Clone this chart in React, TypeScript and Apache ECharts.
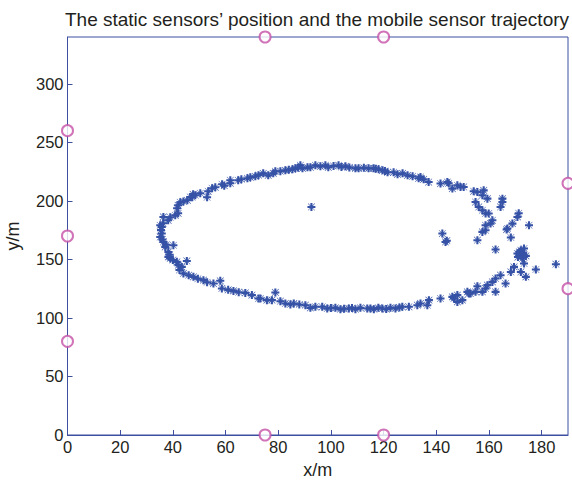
import React, { useEffect, useRef } from "react";
import * as echarts from "echarts";

const titleText = "The static sensors\u2019 position and the mobile sensor trajectory";
const xName = "x/m";
const yName = "y/m";
const xMin = 0;
const xMax = 190;
const xInterval = 20;
const yMin = 0;
const yMax = 340;
const yInterval = 50;

// Static sensors [x, y]
const staticSensors: [number, number][] = [
  [0, 260], [0, 170], [0, 80],
  [75, 340], [120, 340],
  [75, 0], [120, 0],
  [190, 215], [190, 125],
];

// Mobile sensor trajectory estimates [x, y]
const trajectory: [number, number][] = [
  // left, upper
  [35.8, 177.7], [36.3, 180.9], [38.2, 183.4], [39.0, 186.0], [40.9, 187.7], [42.0, 189.4],
  [41.6, 193.7], [42.0, 196.2], [42.8, 198.8], [45.5, 200.5], [47.3, 203.1], [47.7, 205.6],
  [50.4, 206.5], [53.0, 203.1], [53.4, 208.2], [54.9, 210.8], [56.1, 211.6], [58.7, 214.2],
  [61.8, 215.0], [61.8, 217.6], [64.8, 217.6], [68.3, 219.3], [69.4, 220.1], [71.3, 221.0],
  [74.3, 223.5], [76.2, 221.8], [35.2, 179.2], [36.4, 186.3], [46.6, 203.3], [48.5, 204.8],
  [44.0, 199.5], [59.5, 213.0], [66.0, 218.5], [72.5, 222.0],
  // top
  [78.1, 223.5], [78.9, 225.3], [80.8, 225.3], [82.7, 226.1], [85.4, 227.0], [86.5, 227.8],
  [88.4, 230.4], [89.2, 227.8], [91.1, 228.7], [92.2, 228.7], [94.1, 230.4], [97.9, 230.4],
  [99.0, 228.7], [102.9, 230.4], [105.5, 229.5], [109.3, 227.8], [110.5, 227.8], [114.3, 227.8],
  [116.2, 227.8], [118.1, 227.0], [119.6, 226.1], [121.5, 224.4], [123.8, 224.4], [125.3, 222.7],
  [127.2, 223.5], [129.1, 221.8], [131.0, 221.0], [133.3, 219.3], [84.0, 226.5], [87.5, 228.5],
  [96.0, 229.5], [101.0, 229.8], [104.0, 229.0], [107.0, 228.6], [112.5, 228.2], [117.0, 227.5],
  [120.5, 225.5],
  // right, upper
  [134.0, 220.4], [135.2, 218.4], [137.1, 216.1], [141.6, 214.8], [144.2, 216.1], [144.7, 215.0],
  [146.1, 210.5], [148.0, 213.3], [149.2, 211.9], [150.4, 211.9], [154.2, 208.2], [155.6, 207.6],
  [158.0, 209.0], [157.5, 204.8], [159.4, 201.9], [154.9, 199.0], [156.1, 194.8], [157.5, 192.0],
  [158.7, 189.2], [159.9, 189.2], [165.1, 201.9], [165.1, 199.1], [164.4, 194.8], [171.3, 189.4],
  [170.8, 186.3], [161.3, 183.4], [160.6, 180.6], [158.7, 179.2], [158.7, 174.9], [157.5, 173.5],
  [168.9, 180.6], [167.0, 176.4], [175.2, 179.2], [142.3, 172.1],
  // right, lower
  [143.5, 164.9], [144.0, 166.0], [155.6, 166.4], [162.5, 158.4], [168.3, 168.7], [166.7, 175.5],
  [170.8, 155.0], [172.1, 157.8], [173.3, 159.3], [172.1, 153.6], [172.7, 150.8], [173.3, 146.5],
  [169.5, 143.6], [168.3, 139.3], [172.1, 139.3], [174.0, 135.1], [177.8, 141.4], [185.4, 145.9],
  [166.3, 129.4], [164.4, 136.5], [162.5, 133.7], [161.3, 130.8], [159.4, 128.0], [158.7, 125.2],
  [155.6, 127.1], [154.9, 122.3], [153.0, 120.9], [151.8, 122.3], [162.5, 122.3], [157.5, 122.3],
  [148.0, 119.5], [146.1, 118.0], [141.6, 116.6], [137.2, 115.2], [134.0, 112.4], [136.6, 110.9],
  [146.7, 116.6], [148.0, 113.7], [149.9, 115.2], [152.4, 120.9], [171.5, 156.5], [173.0, 155.0],
  [171.0, 152.0], [174.0, 153.0],
  // bottom
  [73.2, 116.6], [75.7, 115.2], [77.6, 115.2], [78.9, 121.8], [80.8, 114.3], [82.7, 112.4],
  [84.6, 111.5], [85.9, 112.4], [90.3, 110.9], [92.2, 108.6], [94.1, 109.5], [96.7, 109.5],
  [98.6, 108.1], [101.7, 108.6], [103.6, 107.5], [106.8, 108.1], [109.3, 107.5], [111.2, 108.6],
  [113.8, 108.1], [116.3, 107.5], [119.5, 108.1], [122.6, 108.6], [124.5, 108.1], [127.1, 109.5],
  [129.6, 109.5], [132.8, 110.9], [88.0, 111.5], [100.0, 108.5], [105.0, 107.8], [108.0, 108.5],
  [115.0, 108.0], [118.0, 108.6], [121.0, 107.6], [126.0, 109.0],
  // left, lower
  [35.8, 172.1], [35.2, 169.2], [36.4, 164.9], [37.1, 160.7], [40.2, 162.1], [38.3, 156.4],
  [39.0, 150.8], [41.5, 147.9], [43.4, 143.6], [44.0, 138.0], [45.3, 148.7], [47.8, 135.1],
  [51.6, 132.3], [55.4, 129.4], [58.0, 131.7], [58.6, 125.2], [63.0, 123.1], [67.5, 121.4],
  [70.0, 119.5], [72.5, 116.6], [38.3, 152.2], [42.1, 145.1], [35.5, 175.0], [36.0, 167.0],
  [37.5, 162.5], [38.8, 154.0], [40.0, 149.5], [42.5, 141.0], [46.0, 136.5], [49.5, 133.5],
  [53.0, 130.5], [61.0, 124.0], [65.0, 122.0],
  // isolated
  [92.6, 194.8],
];

const ASTERISK =
  "path://M-1.3 -5L1.3 -5L1.3 5L-1.3 5Z M-5 -1.3L5 -1.3L5 1.3L-5 1.3Z M-4 -4.5L4.5 4L4 4.5L-4.5 -4Z M4 -4.5L4.5 -4L-4 4.5L-4.5 4Z";

const FONT = "'Liberation Sans', Arial, Helvetica, sans-serif";
const AXIS_COLOR = "#3d4f9e";
const TEXT_COLOR = "#231f20";

export default function App() {
  const ref = useRef<HTMLDivElement>(null);
  useEffect(() => {
    if (!ref.current) return;
    const chart = echarts.init(ref.current, null, { renderer: "svg" });
    chart.setOption({
      animation: false,
      backgroundColor: "#ffffff",
      title: {
        text: titleText,
        left: 312,
        textAlign: "center",
        top: 5,
        textStyle: { fontFamily: FONT, fontSize: 19, fontWeight: "normal", color: TEXT_COLOR },
      },
      grid: {
        left: 67.5,
        right: 4,
        top: 37,
        bottom: 49,
        containLabel: false,
        outerBoundsMode: "none",
        show: true,
        borderColor: AXIS_COLOR,
        borderWidth: 1,
        backgroundColor: "#ffffff",
      },
      xAxis: {
        type: "value",
        min: xMin,
        max: xMax,
        interval: xInterval,
        name: xName,
        nameLocation: "middle",
        nameGap: 26,
        nameTextStyle: { fontFamily: FONT, fontSize: 18, color: TEXT_COLOR },
        axisLine: { show: true, lineStyle: { color: AXIS_COLOR, width: 1 } },
        axisTick: { show: true, inside: true, length: 5, lineStyle: { color: AXIS_COLOR } },
        axisLabel: { fontFamily: FONT, fontSize: 16.5, color: TEXT_COLOR, margin: 3, showMaxLabel: false },
        splitLine: { show: false },
      },
      yAxis: {
        type: "value",
        min: yMin,
        max: yMax,
        interval: yInterval,
        name: yName,
        nameLocation: "middle",
        nameGap: 46,
        nameRotate: 90,
        nameTextStyle: { fontFamily: FONT, fontSize: 18, color: TEXT_COLOR },
        axisLine: { show: true, lineStyle: { color: AXIS_COLOR, width: 1 } },
        axisTick: { show: true, inside: true, length: 5, lineStyle: { color: AXIS_COLOR } },
        axisLabel: { fontFamily: FONT, fontSize: 16.5, color: TEXT_COLOR, margin: 4, showMaxLabel: false },
        splitLine: { show: false },
      },
      series: [
        {
          type: "scatter",
          data: trajectory,
          symbol: ASTERISK,
          symbolSize: 8,
          itemStyle: { color: "#3552a6", opacity: 1 },
          clip: false,
          z: 2,
        },
        {
          type: "scatter",
          data: staticSensors,
          symbol: "emptyCircle",
          symbolSize: 11,
          itemStyle: { color: "#c650a6", borderColor: "#c650a6", borderWidth: 0.8 },
          clip: false,
          z: 3,
        },
      ],
    });
    return () => chart.dispose();
  }, []);
  return (
    <div
      ref={ref}
      style={{ position: "fixed", left: 0, top: 0, width: 572, height: 484 }}
    />
  );
}
